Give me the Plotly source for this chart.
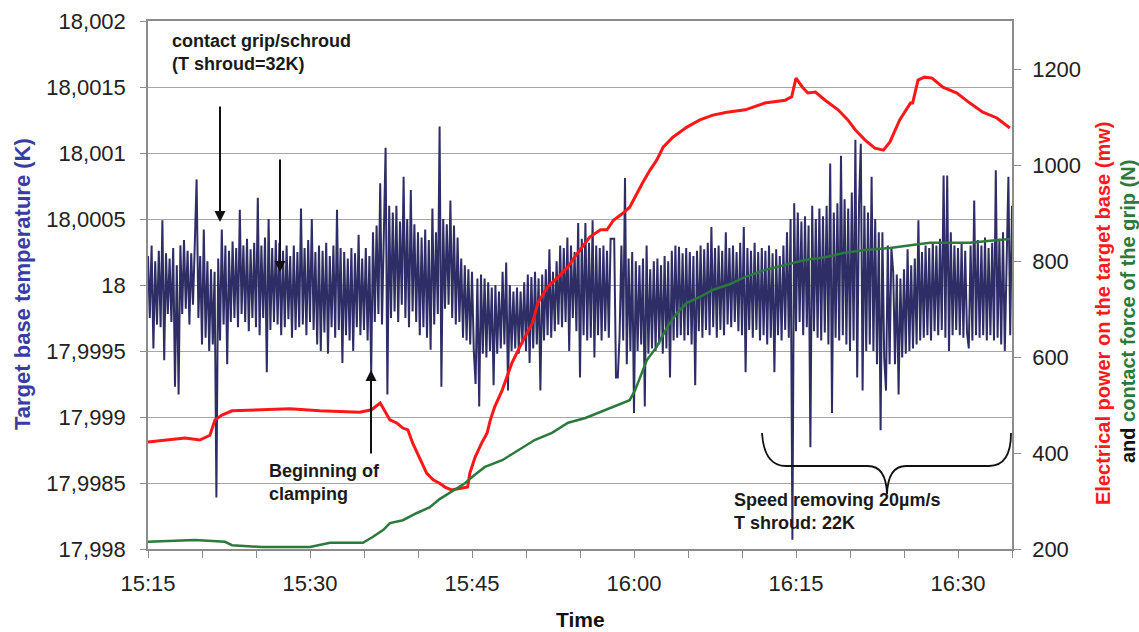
import plotly.graph_objects as go
import pandas as pd

DAY = "2010-01-01 "

# ---- Target base temperature (K), sampled every 10 s from 15:15:00 ----
temp_start = "15:15:00"
temp_step_s = 10
temp_K = [
    18.00022, 17.99975, 18.00030, 17.99952, 18.00018, 17.99970,
    18.00026, 17.99968, 18.00049, 17.99943, 18.00024, 17.99978,
    18.00020, 17.99972, 18.00028, 17.99923, 18.00015, 17.99917,
    18.00030, 17.99978, 18.00034, 17.99982, 18.00026, 17.99970,
    18.00024, 17.99985, 18.00031, 18.00080, 17.99975, 18.00022,
    17.99955, 18.00042, 17.99960, 18.00018, 17.99950, 18.00012,
    17.99955, 18.00010, 17.99839, 18.00020, 17.99958, 18.00042,
    17.99970, 18.00030, 17.99940, 18.00026, 17.99972, 18.00033,
    17.99975, 18.00028, 17.99968, 18.00057, 17.99978, 18.00030,
    17.99972, 18.00035, 17.99965, 18.00027, 17.99975, 18.00032,
    17.99968, 18.00066, 17.99962, 18.00030, 17.99975, 18.00036,
    17.99934, 18.00050, 17.99966, 18.00028, 17.99972, 18.00034,
    17.99970, 18.00032, 17.99962, 18.00026, 17.99968, 18.00030,
    17.99974, 18.00022, 17.99960, 18.00030, 17.99966, 18.00025,
    17.99968, 18.00058, 17.99970, 18.00028, 17.99962, 18.00034,
    17.99972, 18.00050, 17.99966, 18.00025, 17.99955, 18.00030,
    17.99950, 18.00026, 17.99964, 18.00032, 17.99948, 18.00022,
    17.99968, 18.00030, 17.99960, 18.00057, 17.99966, 18.00028,
    17.99941, 18.00025, 17.99962, 18.00020, 17.99958, 18.00028,
    17.99950, 18.00024, 17.99968, 18.00038, 17.99962, 18.00020,
    17.99966, 18.00028, 17.99958, 18.00022, 17.99933, 18.00040,
    17.99972, 18.00045, 17.99978, 18.00077, 17.99970, 18.00050,
    18.00104, 17.99917, 18.00060, 17.99975, 18.00055, 17.99980,
    18.00060, 17.99972, 18.00048, 17.99985, 18.00082, 17.99975,
    18.00050, 17.99968, 18.00072, 17.99980, 18.00046, 17.99972,
    18.00040, 17.99962, 18.00036, 17.99968, 18.00042, 17.99960,
    18.00034, 17.99951, 18.00058, 17.99970, 18.00040, 17.99978,
    18.00120, 17.99923, 18.00050, 17.99982, 18.00046, 17.99985,
    18.00064, 17.99975, 18.00045, 17.99970, 18.00036, 17.99972,
    18.00020, 17.99960, 18.00015, 17.99958, 18.00012, 17.99955,
    18.00010, 17.99950, 17.99925, 18.00005, 17.99908, 18.00008,
    17.99948, 18.00005, 17.99945, 18.00002, 17.99950, 17.99998,
    17.99924, 18.00000, 17.99948, 17.99995, 17.99952, 18.00010,
    17.99955, 18.00017, 17.99920, 18.00000, 17.99950, 17.99995,
    17.99952, 17.99998, 17.99948, 17.99995, 17.99955, 18.00002,
    17.99950, 18.00008, 17.99941, 18.00006, 17.99952, 18.00010,
    17.99955, 18.00005, 17.99920, 18.00008, 17.99958, 18.00012,
    17.99962, 18.00027, 17.99960, 18.00010, 17.99965, 18.00018,
    17.99970, 18.00030, 17.99968, 18.00028, 17.99972, 18.00036,
    17.99950, 18.00030, 17.99975, 18.00025, 17.99965, 18.00047,
    17.99930, 18.00035, 17.99962, 18.00047, 17.99958, 18.00032,
    17.99960, 18.00049, 17.99945, 18.00030, 17.99962, 18.00028,
    17.99958, 18.00030, 17.99965, 18.00026, 17.99960, 18.00035,
    18.00035, 18.00035, 17.99930, 17.99930, 17.99962, 18.00030,
    17.99958, 18.00081, 17.99940, 18.00020, 17.99950, 18.00025,
    17.99903, 18.00018, 17.99950, 18.00015, 17.99955, 18.00020,
    17.99908, 18.00030, 17.99948, 18.00012, 17.99952, 18.00018,
    17.99950, 18.00020, 17.99955, 18.00015, 17.99948, 18.00022,
    17.99952, 18.00018, 17.99930, 18.00026, 17.99958, 18.00030,
    17.99960, 18.00029, 17.99962, 18.00024, 17.99958, 18.00028,
    17.99962, 18.00025, 17.99955, 18.00022, 17.99924, 18.00026,
    17.99965, 18.00030, 17.99960, 18.00027, 17.99966, 18.00032,
    17.99962, 18.00044, 17.99968, 18.00028, 17.99960, 18.00030,
    17.99966, 18.00026, 17.99962, 18.00040, 17.99970, 18.00028,
    17.99968, 18.00030, 17.99972, 18.00025, 17.99965, 18.00032,
    17.99962, 18.00044, 17.99934, 18.00028, 17.99966, 18.00026,
    17.99960, 18.00032, 17.99966, 18.00025, 17.99958, 18.00028,
    17.99962, 18.00026, 17.99955, 18.00030, 17.99960, 18.00024,
    17.99934, 18.00027, 17.99962, 18.00022, 17.99958, 18.00030,
    17.99966, 18.00040, 17.99960, 18.00050, 17.99807, 18.00062,
    17.99965, 18.00055, 17.99972, 18.00048, 17.99962, 18.00052,
    17.99968, 18.00045, 17.99877, 18.00060, 17.99965, 18.00050,
    17.99960, 18.00058, 17.99958, 18.00052, 17.99964, 18.00060,
    17.99955, 18.00092, 17.99903, 18.00055, 17.99960, 18.00062,
    17.99958, 18.00098, 17.99962, 18.00065, 17.99955, 18.00058,
    17.99950, 18.00070, 17.99958, 18.00110, 17.99930, 18.00060,
    18.00107, 17.99920, 18.00060, 17.99950, 18.00055, 17.99955,
    18.00082, 17.99950, 18.00050, 17.99940, 18.00040, 17.99890,
    18.00040, 17.99945, 17.99920, 18.00030, 17.99940, 18.00028,
    18.00010, 17.99940, 18.00008, 17.99917, 18.00005, 17.99945,
    18.00012, 17.99948, 18.00027, 17.99950, 18.00015, 17.99952,
    18.00020, 17.99955, 18.00049, 17.99958, 18.00025, 17.99960,
    18.00030, 17.99962, 18.00028, 17.99958, 18.00032, 17.99965,
    18.00030, 17.99962, 18.00035, 17.99966, 18.00083, 17.99960,
    18.00083, 17.99950, 18.00040, 17.99962, 18.00030, 17.99966,
    18.00028, 17.99962, 18.00032, 17.99960, 18.00026, 17.99964,
    17.99952, 18.00030, 17.99958, 18.00064, 17.99962, 18.00034,
    17.99960, 18.00030, 17.99962, 18.00036, 17.99958, 18.00028,
    17.99962, 18.00032, 17.99958, 18.00087, 17.99960, 18.00035,
    17.99955, 18.00040, 17.99950, 18.00030, 18.00082, 17.99962,
    18.00060,
]

# ---- Electrical power on the target base (mW) ----
power_time = [
    "15:15:00", "15:16:34", "15:18:26", "15:19:48", "15:20:44", "15:21:12",
    "15:21:51", "15:22:47", "15:25:22", "15:28:09", "15:30:54", "15:34:36",
    "15:35:42", "15:36:30", "15:37:24", "15:38:04", "15:38:36", "15:39:04",
    "15:39:30", "15:40:12", "15:40:48", "15:41:24", "15:42:00", "15:42:30",
    "15:43:06", "15:44:06", "15:44:36", "15:44:48", "15:45:18", "15:45:54",
    "15:46:24", "15:46:42", "15:47:06", "15:47:48", "15:48:42", "15:49:36",
    "15:50:36", "15:51:06", "15:52:00", "15:53:00", "15:53:54", "15:54:30",
    "15:55:12", "15:55:54", "15:56:54", "15:57:30", "15:58:06", "15:59:00",
    "15:59:36", "16:00:18", "16:00:48", "16:01:30", "16:02:06", "16:02:42",
    "16:03:36", "16:04:54", "16:06:06", "16:07:18", "16:08:36", "16:10:18",
    "16:12:06", "16:14:00", "16:14:36", "16:15:00", "16:15:36", "16:16:06",
    "16:16:48", "16:17:42", "16:18:54", "16:19:48", "16:20:30", "16:21:24",
    "16:22:18", "16:23:06", "16:23:42", "16:24:36", "16:25:36", "16:25:48",
    "16:26:18", "16:26:54", "16:27:36", "16:28:36", "16:29:54", "16:31:06",
    "16:32:18", "16:33:36", "16:34:48",
]
power_mW = [
    423, 427, 431, 427, 437, 469,
    479, 488, 490, 492, 488, 485,
    490, 504, 469, 462, 452, 448,
    421, 385, 358, 344, 337, 329,
    323, 327, 329, 358, 392, 421,
    442, 469, 496, 531, 588, 629,
    671, 713, 746, 767, 788, 808,
    829, 850, 865, 865, 885, 900,
    912, 942, 963, 990, 1010, 1037,
    1058, 1079, 1094, 1104, 1110, 1115,
    1129, 1135, 1142, 1181, 1162, 1150,
    1152, 1135, 1115, 1094, 1073, 1052,
    1035, 1031, 1048, 1094, 1129, 1129,
    1177, 1183, 1181, 1162, 1150, 1129,
    1110, 1098, 1077,
]

# ---- Contact force of the grip (N) ----
force_time = [
    "15:15:00", "15:16:51", "15:19:21", "15:22:08", "15:22:47", "15:25:36",
    "15:28:36", "15:30:00", "15:31:51", "15:34:54", "15:35:48", "15:36:48",
    "15:37:24", "15:38:36", "15:39:54", "15:41:06", "15:42:00", "15:43:24",
    "15:44:21", "15:45:00", "15:46:12", "15:47:48", "15:49:18", "15:50:48",
    "15:52:24", "15:53:54", "15:55:30", "15:56:36", "15:58:06", "15:59:36",
    "16:00:06", "16:00:36", "16:01:12", "16:02:06", "16:03:06", "16:04:00",
    "16:04:54", "16:06:06", "16:07:18", "16:08:54", "16:10:18", "16:12:06",
    "16:14:00", "16:15:48", "16:17:42", "16:19:30", "16:21:24", "16:23:42",
    "16:25:36", "16:27:24", "16:29:18", "16:31:06", "16:33:00", "16:34:48",
]
force_N = [
    215, 217, 219, 215, 208, 204,
    204, 204, 213, 213, 225, 240,
    254, 260, 275, 287, 304, 323,
    337, 350, 371, 385, 406, 427,
    442, 463, 473, 483, 496, 510,
    531, 558, 594, 621, 663, 692,
    713, 725, 740, 752, 767, 781,
    792, 802, 808, 817, 823, 827,
    833, 838, 838, 838, 842, 846,
]

# ---- axis ticks ----
left_tickvals = [17.998, 17.9985, 17.999, 17.9995, 18.0, 18.0005, 18.001, 18.0015, 18.002]
left_ticktext = ["17,998", "17,9985", "17,999", "17,9995", "18", "18,0005", "18,001", "18,0015", "18,002"]
right_tickvals = [200, 400, 600, 800, 1000, 1200]

temp_time = pd.date_range(DAY + temp_start, periods=len(temp_K), freq=f"{temp_step_s}s")
p_time = pd.to_datetime([DAY + t for t in power_time])
f_time = pd.to_datetime([DAY + t for t in force_time])

FONT = "Liberation Sans, Arial, sans-serif"
BLUE_LINE = "#2f2d66"
RED = "#ff1616"
GREEN = "#2b7a3b"
AXIS = "#8c8c8c"
TICKFONT = dict(size=22, color="#222222", family=FONT)

fig = go.Figure()
fig.add_trace(go.Scatter(x=temp_time, y=temp_K, mode="lines",
                         line=dict(color=BLUE_LINE, width=2.0), yaxis="y",
                         name="Target base temperature"))
fig.add_trace(go.Scatter(x=p_time, y=power_mW, mode="lines",
                         line=dict(color=RED, width=3), yaxis="y2",
                         name="Electrical power"))
fig.add_trace(go.Scatter(x=f_time, y=force_N, mode="lines",
                         line=dict(color=GREEN, width=2.5), yaxis="y2",
                         name="Contact force"))

L, R, T, B = 148, 127, 21, 83
PW, PH = 1139 - L - R, 632 - T - B


def px(xp):
    return (xp - L) / PW


def py(yp):
    return (T + PH - yp) / PH


fig.update_layout(
    width=1139, height=632,
    margin=dict(l=L, r=R, t=T, b=B, autoexpand=False),
    paper_bgcolor="white", plot_bgcolor="white",
    showlegend=False,
    font=dict(family=FONT, color="#222222", size=18),
    xaxis=dict(
        type="date",
        range=[DAY + "15:15:00", DAY + "16:35:00"],
        tick0=DAY + "15:15:00", dtick=900000, tickformat="%H:%M",
        ticks="outside", ticklen=7, tickcolor=AXIS, tickwidth=1,
        minor=dict(dtick=300000, ticks="outside", ticklen=7, tickcolor=AXIS),
        showgrid=False, showline=True, linecolor=AXIS, linewidth=1.5, mirror=True,
        ticklabelstandoff=7,
        tickfont=TICKFONT,
    ),
    yaxis=dict(
        range=[17.998, 18.002],
        tickvals=left_tickvals, ticktext=left_ticktext,
        ticks="outside", ticklen=6, tickcolor=AXIS,
        showgrid=True, gridcolor="#a6a6a6", gridwidth=1,
        showline=True, linecolor=AXIS, linewidth=1.5,
        zeroline=False, ticklabelstandoff=10,
        tickfont=TICKFONT,
    ),
    yaxis2=dict(
        range=[200, 1300], overlaying="y", side="right",
        tickvals=right_tickvals,
        ticks="outside", ticklen=7, tickcolor=AXIS,
        showgrid=False, showline=True, linecolor=AXIS, linewidth=1.5,
        zeroline=False, ticklabelstandoff=7,
        tickfont=TICKFONT,
    ),
)

# white box behind the top-left note
fig.add_shape(type="rect", xref="paper", yref="paper",
              x0=px(163), x1=px(505), y0=py(96), y1=py(23),
              fillcolor="white", line=dict(width=0), layer="between")

# curly brace
brace = ("M {a},{b} Q {c},{d} {e},{d} L {f},{d} Q {g},{d} {h},{i} "
         "Q {j},{d} {k},{d} L {l},{d} Q {m},{d} {m},{b}").format(
    a=px(762), b=py(433), c=px(764), d=py(466), e=px(786), f=px(868),
    g=px(886), h=px(887), i=py(494), j=px(888), k=px(906), l=px(989), m=px(1011))
fig.add_shape(type="path", xref="paper", yref="paper", path=brace,
              line=dict(color="#111111", width=1.8))

notes = [
    (px(170), py(52), "<b>contact grip/schroud<br>(T shroud=32K)</b>"),
    (px(267), py(482), "<b>Beginning of<br>clamping</b>"),
    (px(732), py(511), "<b>Speed removing 20µm/s<br>T shroud: 22K</b>"),
]
for xx, yy, txt in notes:
    fig.add_annotation(x=xx, y=yy, xref="paper", yref="paper", text=txt,
                       showarrow=False, xanchor="left", yanchor="middle", align="left",
                       font=dict(size=18, color="#1a1a1a", family=FONT))

arrows = [(220, 222, 105), (280, 272, 158), (371, 370, 455)]
for xh, yh, yt in arrows:
    fig.add_annotation(x=px(xh), y=py(yh), xref="paper", yref="paper", text="",
                       showarrow=True, ax=0, ay=yt - yh, axref="pixel", ayref="pixel",
                       arrowhead=2, arrowsize=1.1, arrowwidth=2, arrowcolor="#111111")

# axis titles
titles = [
    (22, 284, "<b>Target base temperature (K)</b>", 22, "#3b3ba6", -90),
    (1103, 314, "<b>Electrical power on the target base (mw)</b>", 20, "#ff1a1a", -90),
    (1128, 312, "<b>and <span style='color:#2b7a3b'>contact force of the grip (N)</span></b>",
     20, "#111111", -90),
    (580, 619, "<b>Time</b>", 21, "#111111", 0),
]
for xx, yy, txt, size, col, ang in titles:
    fig.add_annotation(x=px(xx), y=py(yy), xref="paper", yref="paper", text=txt,
                       textangle=ang, showarrow=False, xanchor="center", yanchor="middle",
                       font=dict(size=size, color=col, family=FONT))

fig.write_html("out.html", config={"displayModeBar": False},
               post_script="document.body.style.margin='0';document.body.style.padding='0';")
